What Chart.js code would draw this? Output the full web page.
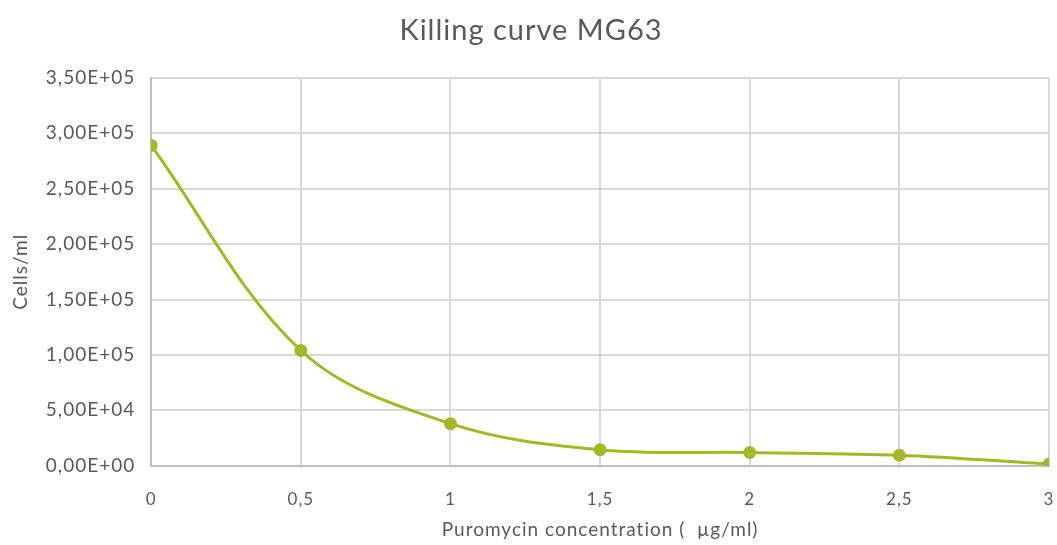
<!DOCTYPE html>
<html>
<head>
<meta charset="utf-8">
<script src="https://cdn.jsdelivr.net/npm/chart.js@4/dist/chart.umd.min.js"></script>
<style>
html,body{margin:0;padding:0;background:#fff;}
#wrap{width:1057px;height:545px;}
</style>
</head>
<body>
<div id="wrap"><canvas id="c" width="1057" height="545"></canvas></div>
<script>
const concentrations = [0, 0.5, 1, 1.5, 2, 2.5, 3];
const cellsPerMl = [289000, 104000, 38000, 14500, 12000, 9500, 1500];
const titleText = 'Killing curve MG63';
const xTitle = 'Puromycin concentration (  µg/ml)';
const yTitle = 'Cells/ml';

function fmtY(v){
  if (v === 0) return '0,00E+00';
  let s = Number(v).toExponential(2);
  let [m, e] = s.split('e');
  const sign = e[0] === '-' ? '-' : '+';
  let n = Math.abs(parseInt(e, 10));
  return m.replace('.', ',') + 'E' + sign + String(n).padStart(2, '0');
}
function fmtX(v){ return String(v).replace('.', ','); }

const color = '#a4b826';
const textColor = '#595959';
const fontFam = 'Lato, "Open Sans", sans-serif';

const spacingPlugin = {
  id: 'spacing',
  beforeUpdate(chart){ chart.ctx.letterSpacing = '1px'; },
  beforeLayout(chart){ chart.ctx.letterSpacing = '1px'; },
  beforeDraw(chart){ chart.ctx.letterSpacing = '1px'; }
};

const X_PAD = 24, Y_PAD = 16;

new Chart(document.getElementById('c'), {
  type: 'line',
  plugins: [spacingPlugin],
  data: {
    datasets: [{
      data: concentrations.map((x, i) => ({x: x, y: cellsPerMl[i]})),
      borderColor: color,
      backgroundColor: color,
      borderWidth: 3,
      pointRadius: 5,
      pointHoverRadius: 5,
      pointBackgroundColor: color,
      pointBorderColor: color,
      tension: 0.35,
      fill: false
    }]
  },
  options: {
    responsive: false,
    animation: false,
    layout: { padding: { left: 9, right: 4, top: 10, bottom: 4 } },
    plugins: {
      legend: { display: false },
      tooltip: { enabled: false },
      title: {
        display: true,
        text: titleText,
        color: textColor,
        font: { family: fontFam, size: 29, weight: 'normal' },
        padding: { top: 3, bottom: 30 }
      }
    },
    scales: {
      x: {
        type: 'linear',
        min: 0, max: 3,
        afterFit(scale){ scale.height -= X_PAD; scale.paddingRight = 6; },
        ticks: {
          stepSize: 0.5,
          color: textColor,
          font: { family: fontFam, size: 17 },
          padding: X_PAD,
          callback: v => fmtX(v)
        },
        grid: { color: '#d9d9d9', lineWidth: 2, drawTicks: false },
        border: { color: '#bfbfbf', width: 2 },
        title: {
          display: true, text: xTitle, color: textColor,
          font: { family: fontFam, size: 19 }, padding: { top: 8, bottom: 0 }
        }
      },
      y: {
        min: 0, max: 350000,
        afterFit(scale){ scale.width -= Y_PAD; },
        ticks: {
          stepSize: 50000,
          color: textColor,
          font: { family: fontFam, size: 19 },
          padding: Y_PAD,
          callback: v => fmtY(v)
        },
        grid: { color: '#d9d9d9', lineWidth: 2, drawTicks: false },
        border: { color: '#bfbfbf', width: 2 },
        title: {
          display: true, text: yTitle, color: textColor,
          font: { family: fontFam, size: 19 }, padding: { top: 0, bottom: 14 }
        }
      }
    }
  }
});
</script>
</body>
</html>
